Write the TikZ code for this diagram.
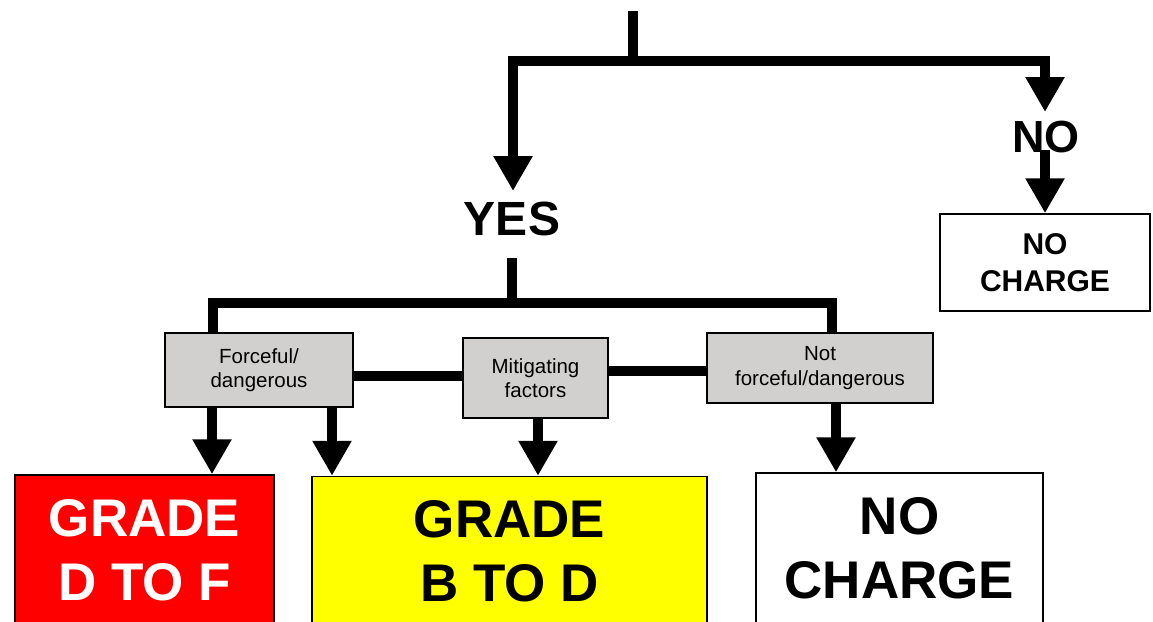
\documentclass[tikz,border=0pt]{standalone}
\usepackage{fontspec}
\setmainfont{Liberation Sans}
\usetikzlibrary{arrows.meta}
\definecolor{boxgray}{RGB}{210,207,207}
\definecolor{boxred}{RGB}{255,0,0}
\definecolor{boxyellow}{RGB}{255,255,0}
\begin{document}
\begin{tikzpicture}[x=1pt,y=-1pt,
  conn/.style={line width=10.5pt},
  arr/.style={line width=10.5pt,-{Triangle[width=37pt,length=35pt]}},
  graybox/.style={draw,line width=1.5pt,fill=boxgray,align=center,inner sep=0pt,
    font=\fontsize{20.5}{24.5}\selectfont},
  bigbox/.style={draw,line width=1.5pt,align=center,inner sep=0pt,
    font=\bfseries\fontsize{53}{64}\selectfont},
  smallbox/.style={draw,line width=1.5pt,fill=white,align=center,inner sep=0pt,
    font=\bfseries\fontsize{30}{37}\selectfont},
  lbl/.style={inner sep=0pt,anchor=base}
]
\useasboundingbox (0,0) rectangle (1153,621);
\clip (0,0) rectangle (1153,621);
\fill[white] (0,0) rectangle (1153,621);

% labels
\node[lbl,font=\bfseries\fontsize{48}{48}\selectfont] (yes) at (512,235) {YES};
\node[lbl,font=\bfseries\fontsize{45}{45}\selectfont] (no) at (1046,152) {NO};

% boxes
\node[smallbox,minimum width=210pt,minimum height=97pt] (nocharge1) at (1045,262.5) {NO\\CHARGE};
\node[graybox,minimum width=188pt,minimum height=74pt] (force) at (259,370) {Forceful/\\dangerous};
\node[graybox,minimum width=145pt,minimum height=80pt] (mitig) at (535.5,378) {Mitigating\\factors};
\node[graybox,minimum width=226pt,minimum height=70pt] (notforce) at (820,368) {Not\\forceful/dangerous};
\node[bigbox,fill=boxred,text=white,minimum width=259pt,minimum height=150pt] (red) at (144.5,550) {GRADE\\D TO F};
\node[bigbox,fill=boxyellow,minimum width=395pt,minimum height=150pt] (yellow) at (509.5,551.5) {GRADE\\B TO D};
\node[bigbox,fill=white,minimum width=287pt,minimum height=150pt] (nocharge2) at (899.5,548) {NO\\CHARGE};

% junction coordinates
\coordinate (top) at (633,11);
\coordinate (split) at (633,61);
\coordinate (yesarrow) at (513,191);
\coordinate (noarrow) at (1045,112);
\coordinate (nostem) at (1045,150);
\coordinate (yesstem) at (512,258);
\coordinate (split2) at (512,303);
\coordinate (lefttop) at (213,0);
\coordinate (righttop) at (832,0);
\coordinate (a1) at (212,0);
\coordinate (a2) at (332,0);
\coordinate (a3) at (538,0);
\coordinate (a4) at (836,0);

% top tree
\draw[conn] (top) -- (split);
\draw[arr] (split) -| (yesarrow);
\draw[arr] (split) -| (noarrow);
\draw[arr] (nostem) -- (nostem |- nocharge1.north);

% second tree
\draw[conn] (yesstem) -- (split2);
\draw[conn] (split2) -| (lefttop |- force.north);
\draw[conn] (split2) -| (righttop |- notforce.north);
\draw[conn] (force.east |- 0,376) -- (mitig.west |- 0,376);
\draw[conn] (mitig.east |- 0,371) -- (notforce.west |- 0,371);

% arrows to grades
\draw[arr] (a1 |- force.south) -- (a1 |- red.north);
\draw[arr] (a2 |- force.south) -- (a2 |- yellow.north);
\draw[arr] (a3 |- mitig.south) -- (a3 |- yellow.north);
\draw[arr] (a4 |- notforce.south) -- (a4 |- nocharge2.north);
\end{tikzpicture}
\end{document}
